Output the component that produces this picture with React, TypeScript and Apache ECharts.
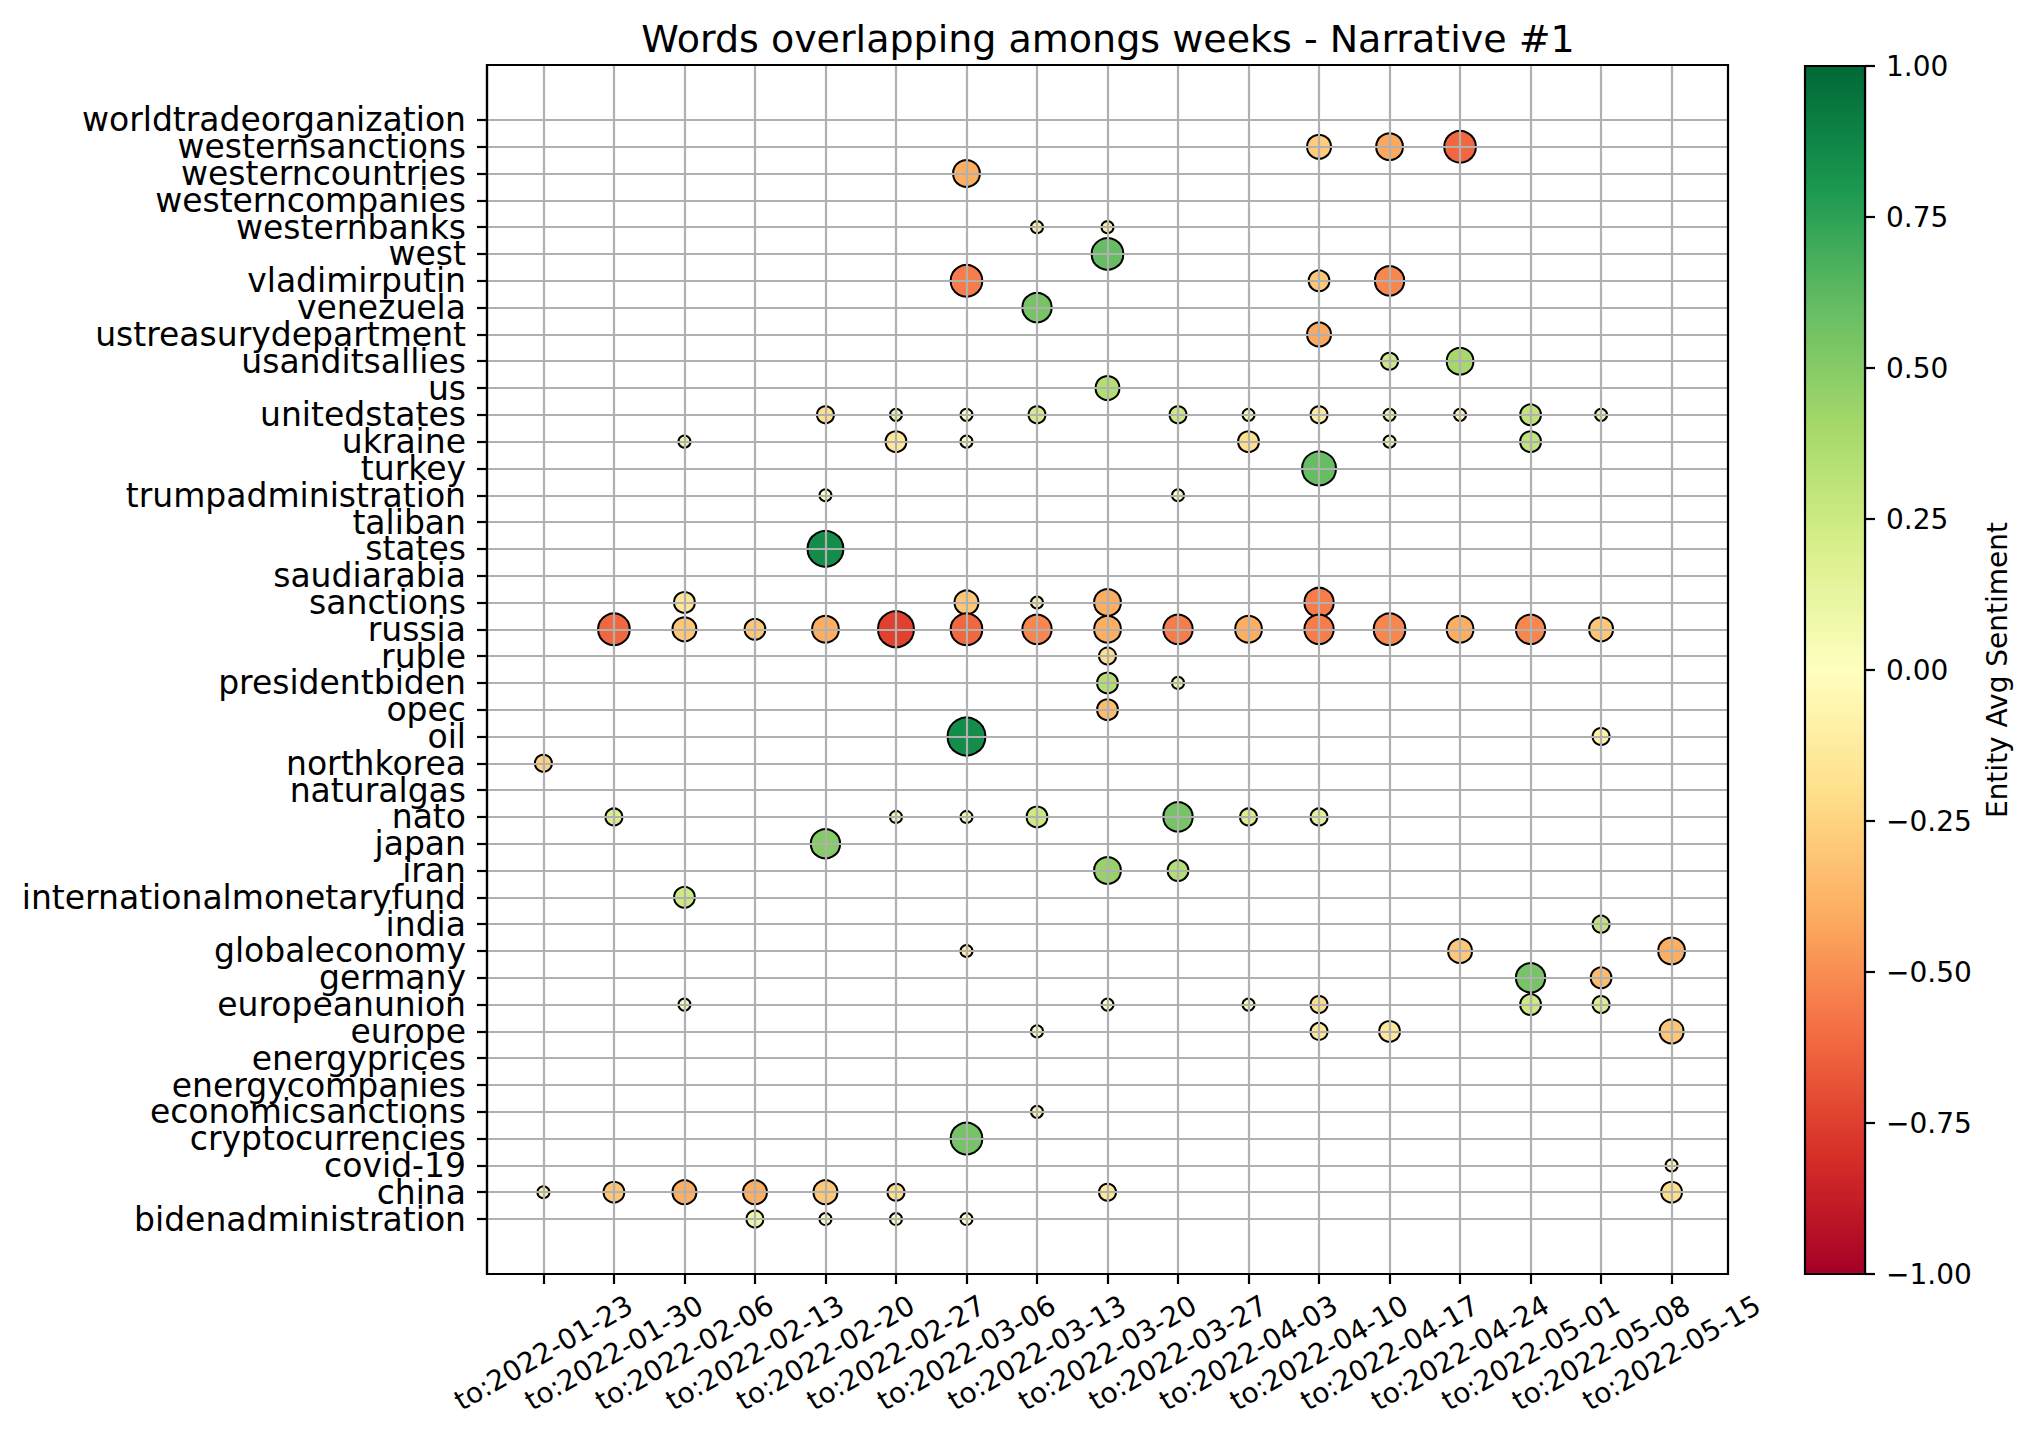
import React, { useEffect, useRef } from "react";
import * as echarts from "echarts";

type Pt = [number, number, number]; // [week index, avg sentiment, mention count]

const weeks = [
  "2022-01-23", "2022-01-30", "2022-02-06", "2022-02-13", "2022-02-20", "2022-02-27",
  "2022-03-06", "2022-03-13", "2022-03-20", "2022-03-27", "2022-04-03", "2022-04-10",
  "2022-04-17", "2022-04-24", "2022-05-01", "2022-05-08", "2022-05-15",
];

// bottom to top
const entities = [
  "bidenadministration", "china", "covid-19", "cryptocurrencies", "economicsanctions",
  "energycompanies", "energyprices", "europe", "europeanunion", "germany", "globaleconomy",
  "india", "internationalmonetaryfund", "iran", "japan", "nato", "naturalgas", "northkorea",
  "oil", "opec", "presidentbiden", "ruble", "russia", "sanctions", "saudiarabia", "states",
  "taliban", "trumpadministration", "turkey", "ukraine", "unitedstates", "us",
  "usanditsallies", "ustreasurydepartment", "venezuela", "vladimirputin", "west",
  "westernbanks", "westerncompanies", "westerncountries", "westernsanctions",
  "worldtradeorganization",
];

const bidenadministration: Pt[] = [[3, 0.1, 2], [4, 0.0, 1], [5, 0.0, 1], [6, 0.0, 1]];
const china: Pt[] = [[0, -0.1, 1], [1, -0.3, 3], [2, -0.4, 4], [3, -0.4, 4], [4, -0.3, 4], [5, -0.2, 2], [8, -0.15, 2], [16, -0.2, 3]];
const covid19: Pt[] = [[16, -0.05, 1]];
const cryptocurrencies: Pt[] = [[6, 0.55, 7]];
const economicsanctions: Pt[] = [[7, -0.05, 1]];
const energycompanies: Pt[] = [];
const energyprices: Pt[] = [];
const europe: Pt[] = [[7, 0.0, 1], [11, -0.15, 2], [12, -0.15, 3], [16, -0.3, 4]];
const europeanunion: Pt[] = [[2, 0.05, 1], [8, 0.0, 1], [10, 0.05, 1], [11, -0.2, 2], [14, 0.25, 3], [15, 0.2, 2]];
const germany: Pt[] = [[14, 0.55, 6], [15, -0.35, 3]];
const globaleconomy: Pt[] = [[6, -0.1, 1], [13, -0.3, 4], [16, -0.4, 5]];
const india: Pt[] = [[15, 0.3, 2]];
const internationalmonetaryfund: Pt[] = [[2, 0.25, 3]];
const iran: Pt[] = [[8, 0.45, 5], [9, 0.35, 3]];
const japan: Pt[] = [[4, 0.5, 6]];
const nato: Pt[] = [[1, 0.2, 2], [5, 0.05, 1], [6, 0.05, 1], [7, 0.25, 3], [9, 0.55, 6], [10, 0.2, 2], [11, 0.15, 2]];
const naturalgas: Pt[] = [];
const northkorea: Pt[] = [[0, -0.25, 2]];
const oil: Pt[] = [[6, 0.85, 10], [15, -0.1, 2]];
const opec: Pt[] = [[8, -0.35, 3]];
const presidentbiden: Pt[] = [[8, 0.35, 3], [9, 0.1, 1]];
const ruble: Pt[] = [[8, -0.2, 2]];
const russia: Pt[] = [[1, -0.62, 7], [2, -0.3, 4], [3, -0.3, 3], [4, -0.4, 5], [5, -0.74, 9], [6, -0.62, 7], [7, -0.52, 6], [8, -0.4, 5], [9, -0.55, 6], [10, -0.4, 5], [11, -0.55, 6], [12, -0.52, 7], [13, -0.4, 5], [14, -0.52, 6], [15, -0.3, 4]];
const sanctions: Pt[] = [[2, -0.15, 3], [6, -0.3, 4], [7, -0.1, 1], [8, -0.4, 5], [11, -0.55, 6]];
const saudiarabia: Pt[] = [];
const states: Pt[] = [[4, 0.85, 9]];
const taliban: Pt[] = [];
const trumpadministration: Pt[] = [[4, 0.0, 1], [9, 0.0, 1]];
const turkey: Pt[] = [[11, 0.6, 8]];
const ukraine: Pt[] = [[2, 0.1, 1], [5, -0.15, 3], [6, 0.0, 1], [10, -0.2, 3], [12, 0.05, 1], [14, 0.3, 3]];
const unitedstates: Pt[] = [[4, -0.2, 2], [5, 0.1, 1], [6, 0.0, 1], [7, 0.22, 2], [9, 0.25, 2], [10, 0.05, 1], [11, -0.12, 2], [12, 0.1, 1], [13, -0.05, 1], [14, 0.3, 3], [15, 0.1, 1]];
const us: Pt[] = [[8, 0.35, 4]];
const usanditsallies: Pt[] = [[12, 0.25, 2], [13, 0.4, 5]];
const ustreasurydepartment: Pt[] = [[11, -0.42, 4]];
const venezuela: Pt[] = [[7, 0.55, 6]];
const vladimirputin: Pt[] = [[6, -0.55, 7], [11, -0.3, 3], [12, -0.52, 6]];
const west: Pt[] = [[8, 0.6, 7]];
const westernbanks: Pt[] = [[7, -0.1, 1], [8, -0.1, 1]];
const westerncompanies: Pt[] = [];
const westerncountries: Pt[] = [[6, -0.4, 5]];
const westernsanctions: Pt[] = [[11, -0.28, 4], [12, -0.42, 5], [13, -0.62, 7]];
const worldtradeorganization: Pt[] = [];

// aligned with `entities`
const mentionsByEntity: Pt[][] = [
  bidenadministration, china, covid19, cryptocurrencies, economicsanctions,
  energycompanies, energyprices, europe, europeanunion, germany, globaleconomy,
  india, internationalmonetaryfund, iran, japan, nato, naturalgas, northkorea,
  oil, opec, presidentbiden, ruble, russia, sanctions, saudiarabia, states,
  taliban, trumpadministration, turkey, ukraine, unitedstates, us,
  usanditsallies, ustreasurydepartment, venezuela, vladimirputin, west,
  westernbanks, westerncompanies, westerncountries, westernsanctions,
  worldtradeorganization,
];

const colorTicks = [-1, -0.75, -0.5, -0.25, 0, 0.25, 0.5, 0.75, 1];

const RdYlGn = [
  "#a50026", "#d73027", "#f46d43", "#fdae61", "#fee08b", "#ffffbf",
  "#d9ef8b", "#a6d96a", "#66bd63", "#1a9850", "#006837",
];

const FONT = "DejaVu Sans";

export default function App() {
  const ref = useRef<HTMLDivElement>(null);
  useEffect(() => {
    const chart = echarts.init(ref.current!, null, { renderer: "svg" });
    const data: number[][] = [];
    for (let j = entities.length - 1; j >= 0; j--) {
      for (const p of mentionsByEntity[j]) data.push([p[0], j, p[1], p[2]]);
    }
    const weekIdx = weeks.map((_, i) => i);
    const entIdx = entities.map((_, i) => i);
    const evenIdx = entIdx.filter((i) => i % 2 === 0);
    const oddIdx = entIdx.filter((i) => i % 2 === 1);
    const gridLines = [
      ...weekIdx.map((i) => ({ xAxis: i })),
      ...entIdx.map((j) => ({ yAxis: j })),
    ];
    const entityAxis = (vals: number[], showLine: boolean) => ({
      gridIndex: 0,
      type: "value",
      position: "left",
      offset: 0,
      min: -2.05,
      max: 43.05,
      splitLine: { show: false },
      axisLine: { show: showLine, onZero: false, lineStyle: { color: "#000", width: 2.2 } },
      axisTick: { show: true, customValues: vals, length: 10, lineStyle: { color: "#000", width: 2.2 } },
      axisLabel: {
        customValues: vals,
        showMinLabel: true,
        showMaxLabel: true,
        hideOverlap: false,
        formatter: (v: number) => entities[Math.round(v)],
        margin: 21,
        fontSize: 33,
        color: "#000",
        fontFamily: FONT,
      },
    });
    chart.setOption({
      animation: false,
      textStyle: { fontFamily: FONT },
      title: {
        text: "Words overlapping amongs weeks - Narrative #1",
        left: 1108,
        top: 20,
        textAlign: "center",
        padding: 0,
        textStyle: { fontSize: 38, fontWeight: "normal", color: "#000", fontFamily: FONT },
      },
      grid: [
        { left: 487, top: 65, width: 1241, height: 1209, show: true, borderColor: "#000", borderWidth: 2.2, backgroundColor: "transparent", z: 10 },
        { left: 1805, top: 66, width: 60, height: 1208, show: true, borderColor: "#000", borderWidth: 2.2, backgroundColor: "transparent", z: 10 },
      ],
      xAxis: [
        {
          gridIndex: 0,
          type: "value",
          min: -0.8,
          max: 16.8,
          splitLine: { show: false },
          axisLine: { show: true, onZero: false, lineStyle: { color: "#000", width: 2.2 } },
          axisTick: { show: true, customValues: weekIdx, length: 10, lineStyle: { color: "#000", width: 2.2 } },
          axisLabel: {
            customValues: weekIdx,
            showMinLabel: true,
            showMaxLabel: true,
            hideOverlap: false,
            formatter: (v: number) => "to:" + weeks[Math.round(v)],
            rotate: 30,
            align: "center",
            verticalAlign: "middle",
            margin: 79,
            fontSize: 28,
            color: "#000",
            fontFamily: FONT,
          },
        },
        { gridIndex: 1, type: "value", min: 0, max: 1, show: false },
      ],
      yAxis: [
        entityAxis(evenIdx, true),
        {
          gridIndex: 1,
          type: "value",
          position: "right",
          min: -1,
          max: 1,
          interval: 0.25,
          splitLine: { show: false },
          axisLine: { show: true, onZero: false, lineStyle: { color: "#000", width: 2.2 } },
          axisTick: { show: true, length: 10, lineStyle: { color: "#000", width: 2.2 } },
          axisLabel: {
            formatter: (v: number) => (v < 0 ? "\u2212" : "") + Math.abs(v).toFixed(2),
            margin: 21,
            fontSize: 28,
            color: "#000",
            fontFamily: FONT,
            customValues: colorTicks,
            showMinLabel: true,
            showMaxLabel: true,
          },
          name: "Entity Avg Sentiment",
          nameLocation: "middle",
          nameRotate: 90,
          nameGap: 118,
          nameTextStyle: { fontSize: 28, color: "#000", fontFamily: FONT },
        },
        entityAxis(oddIdx, false),
      ],
      visualMap: {
        type: "continuous",
        min: -1,
        max: 1,
        dimension: 2,
        seriesIndex: 0,
        inRange: { color: RdYlGn },
        left: 1805,
        top: 66,
        itemWidth: 60,
        itemHeight: 1208,
        padding: 0,
        calculable: false,
        hoverLink: false,
        show: true,
      },
      series: [
        {
          type: "scatter",
          xAxisIndex: 0,
          yAxisIndex: 0,
          data,
          silent: true,
          z: 2,
          symbolSize: (v: number[]) => 12 * Math.sqrt(v[3]),
          itemStyle: { borderColor: "#000", borderWidth: 2, opacity: 1 },
          emphasis: { disabled: true },
          markLine: {
            silent: true,
            symbol: ["none", "none"],
            label: { show: false },
            lineStyle: { color: "#b0b0b0", width: 2.2, type: "solid" },
            emphasis: { disabled: true },
            animation: false,
            data: gridLines,
          },
        },
      ],
    });
    return () => chart.dispose();
  }, []);
  return (
    <div
      ref={ref}
      style={{ position: "absolute", left: 0, top: 0, width: 2029, height: 1437, background: "#fff" }}
    />
  );
}
